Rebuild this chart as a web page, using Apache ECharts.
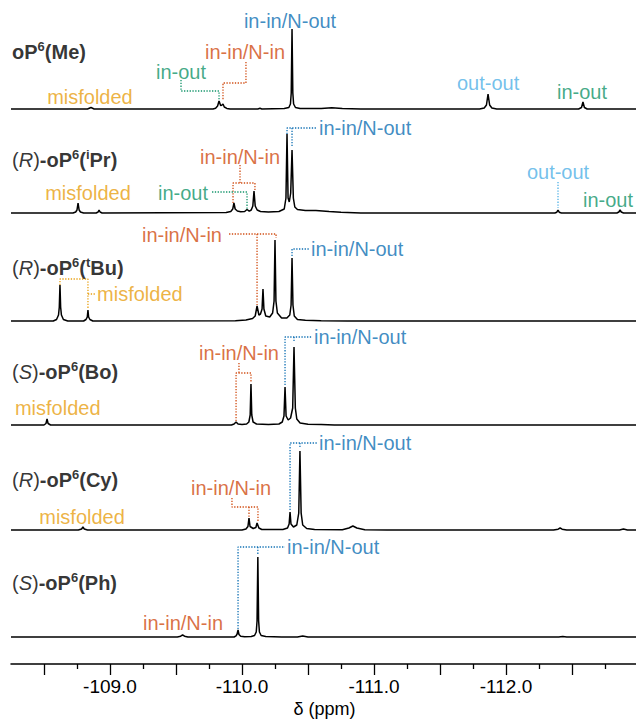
<!DOCTYPE html>
<html>
<head>
<meta charset="utf-8">
<script src="https://cdn.jsdelivr.net/npm/echarts@6/dist/echarts.min.js"></script>
<style>
  html, body { margin: 0; padding: 0; background: #fff; }
  #chart { width: 636px; height: 719px; }
</style>
</head>
<body>
<div id="chart"></div>
<script>
// 19F NMR spectra, [ppm, intensity]
const specMe = [
  [-108.25, 0],
  [-108.83, 0], [-108.856, 1.5], [-108.88, 0],
  [-109.78, 0], [-109.80, 0.8], [-109.815, 3], [-109.826, 8], [-109.838, 3.5], [-109.846, 3.8], [-109.856, 5], [-109.866, 2], [-109.885, 0.6], [-109.91, 0],
  [-110.12, 0], [-110.136, 0.7], [-110.15, 0],
  [-110.32, 0.4], [-110.355, 1.5], [-110.367, 5], [-110.373, 16], [-110.379, 80], [-110.385, 16], [-110.391, 5], [-110.405, 1.5], [-110.44, 0.5],
  [-110.60, 0.5], [-110.68, 1.2], [-110.76, 0.4], [-110.9, 0],
  [-111.80, 0], [-111.835, 1], [-111.852, 4], [-111.864, 15], [-111.876, 4], [-111.893, 1], [-111.93, 0],
  [-112.55, 0], [-112.572, 1.5], [-112.583, 7], [-112.594, 1.5], [-112.615, 0],
  [-113.0, 0]
];
const specIPr = [
  [-108.25, 0],
  [-108.72, 0], [-108.74, 1], [-108.75, 3], [-108.758, 10], [-108.766, 3], [-108.776, 1], [-108.80, 0],
  [-108.895, 0], [-108.91, 1], [-108.917, 3], [-108.925, 1], [-108.94, 0],
  [-109.88, 0.5], [-109.915, 1.5], [-109.93, 4], [-109.939, 10], [-109.948, 4], [-109.965, 2], [-109.99, 1.2],
  [-110.02, 1.5], [-110.038, 3.5], [-110.055, 1.8], [-110.07, 3], [-110.082, 7], [-110.091, 22], [-110.10, 7], [-110.115, 3], [-110.14, 1.5],
  [-110.20, 1], [-110.28, 1.5], [-110.32, 4], [-110.333, 15], [-110.341, 79], [-110.349, 15], [-110.358, 11], [-110.369, 20], [-110.379, 63], [-110.389, 15], [-110.40, 6], [-110.42, 3.5],
  [-110.48, 2.5], [-110.56, 2.5], [-110.66, 1.5], [-110.75, 0.8], [-110.9, 0],
  [-112.37, 0], [-112.385, 0.8], [-112.394, 3], [-112.403, 0.8], [-112.42, 0],
  [-112.84, 0], [-112.855, 1], [-112.864, 3], [-112.873, 1], [-112.89, 0],
  [-113.0, 0]
];
const specTBu = [
  [-108.25, 0],
  [-108.57, 0], [-108.595, 1.5], [-108.61, 6], [-108.616, 14], [-108.621, 36], [-108.626, 14], [-108.632, 6], [-108.647, 1.5], [-108.68, 0],
  [-108.80, 0], [-108.818, 1.5], [-108.828, 4], [-108.833, 11], [-108.838, 4], [-108.848, 1.5], [-108.87, 0],
  [-109.95, 0.3], [-110.03, 1], [-110.08, 2.5], [-110.10, 5], [-110.114, 15], [-110.128, 6], [-110.14, 7], [-110.152, 12], [-110.159, 32], [-110.166, 12], [-110.18, 5],
  [-110.21, 4], [-110.232, 8], [-110.243, 20], [-110.25, 81], [-110.257, 20], [-110.268, 8], [-110.30, 3],
  [-110.34, 3], [-110.362, 6], [-110.372, 16], [-110.379, 63], [-110.386, 16], [-110.396, 5], [-110.42, 1.5], [-110.48, 0.7], [-110.6, 0.3], [-110.8, 0],
  [-113.0, 0]
];
const specBo = [
  [-108.25, 0],
  [-108.50, 0], [-108.515, 1.5], [-108.523, 6], [-108.531, 1.5], [-108.55, 0],
  [-109.92, 0], [-109.94, 1], [-109.955, 3], [-109.97, 1], [-110.0, 0.5],
  [-110.035, 1], [-110.052, 3], [-110.062, 10], [-110.068, 41], [-110.074, 10], [-110.084, 3], [-110.11, 1], [-110.2, 0.5],
  [-110.28, 1], [-110.305, 3], [-110.318, 9], [-110.326, 38], [-110.334, 9], [-110.35, 5], [-110.368, 7], [-110.384, 17], [-110.394, 78], [-110.404, 17], [-110.415, 6], [-110.44, 2],
  [-110.5, 0.7], [-110.6, 0.5], [-110.7, 0],
  [-113.0, 0]
];
const specCy = [
  [-108.25, 0],
  [-108.76, 0], [-108.785, 1], [-108.795, 3], [-108.805, 1], [-108.83, 0],
  [-110.0, 0], [-110.03, 1], [-110.045, 3.5], [-110.053, 12], [-110.061, 3.5], [-110.085, 1.5], [-110.105, 2.5], [-110.114, 7], [-110.128, 2], [-110.15, 0.5],
  [-110.31, 0.5], [-110.345, 2], [-110.357, 6], [-110.364, 18], [-110.371, 6], [-110.39, 3], [-110.415, 5], [-110.43, 17], [-110.439, 79], [-110.448, 17], [-110.46, 5], [-110.49, 1.5], [-110.55, 0.5],
  [-110.76, 0.3], [-110.81, 2], [-110.84, 4], [-110.87, 2], [-110.93, 0.3], [-111.1, 0],
  [-112.36, 0], [-112.395, 0.8], [-112.41, 2], [-112.425, 0.8], [-112.46, 0],
  [-112.86, 0], [-112.89, 1], [-112.92, 0],
  [-113.0, 0]
];
const specPh = [
  [-108.25, 0],
  [-109.51, 0], [-109.535, 0.8], [-109.55, 2], [-109.565, 0.8], [-109.59, 0],
  [-109.94, 0], [-109.955, 1.2], [-109.963, 3], [-109.97, 7], [-109.977, 2.5], [-109.99, 0.8], [-110.02, 0.3],
  [-110.07, 0.5], [-110.095, 1.5], [-110.108, 5], [-110.114, 16], [-110.12, 80], [-110.126, 16], [-110.132, 5], [-110.145, 1.5], [-110.18, 0.4], [-110.3, 0],
  [-110.42, 0], [-110.46, 1], [-110.50, 0],
  [-112.40, 0], [-112.43, 0.6], [-112.46, 0],
  [-113.0, 0]
];

const spectra = [specMe, specIPr, specTBu, specBo, specCy, specPh];
const compounds = [
  '{b|oP}{sup|6}{b|(Me)}',
  '{n|(}{it|R}{n|)}{b|-oP}{sup|6}{b|(}{sup|i}{b|Pr)}',
  '{n|(}{it|R}{n|)}{b|-oP}{sup|6}{b|(}{sup|t}{b|Bu)}',
  '{n|(}{it|S}{n|)}{b|-oP}{sup|6}{b|(Bo)}',
  '{n|(}{it|R}{n|)}{b|-oP}{sup|6}{b|(Cy)}',
  '{n|(}{it|S}{n|)}{b|-oP}{sup|6}{b|(Ph)}'
];
const majorTicks = [-112.5, -112.0, -111.5, -111.0, -110.5, -110.0, -109.5, -109.0, -108.5];
const minorTicks = [-112.75, -112.25, -111.75, -111.25, -110.75, -110.25, -109.75, -109.25, -108.75];
const tickLabels = [-112.0, -111.0, -110.0, -109.0];

// layout: vertical stacking offset of each trace, and where compound names sit
const rowOffset = [555, 451, 343, 239, 134, 27];
const nameY = [612, 504, 396, 292, 184, 81];

const colors = {
    nout: '#0e6fb3',
    nin: '#d04c12',
    inout: '#12946a',
    outout: '#4fb0e6',
    mis: '#e8a012'
};

// [text, ppm, height, colour, align]
const annotations = [
    ['in-in/N-out', -110.364, 643, 'nout', 'center'],
    ['in-in/N-in', -110.023, 612, 'nin', 'center'],
    ['in-out', -109.538, 592, 'inout', 'center'],
    ['misfolded', -108.848, 567, 'mis', 'center'],
    ['out-out', -111.864, 581, 'outout', 'center'],
    ['in-out', -112.576, 572, 'inout', 'center'],
    ['in-in/N-out', -110.583, 536, 'nout', 'left'],
    ['in-in/N-in', -109.985, 507, 'nin', 'center'],
    ['in-out', -109.553, 471, 'inout', 'center'],
    ['misfolded', -108.833, 471, 'mis', 'center'],
    ['out-out', -112.394, 492, 'outout', 'center'],
    ['in-out', -112.583, 464, 'inout', 'left'],
    ['misfolded', -108.902, 370, 'mis', 'left'],
    ['in-in/N-in', -109.242, 429, 'nin', 'left'],
    ['in-in/N-out', -110.523, 415, 'nout', 'left'],
    ['misfolded', -108.280, 256, 'mis', 'left'],
    ['in-in/N-in', -109.977, 311, 'nin', 'center'],
    ['in-in/N-out', -110.545, 327, 'nout', 'left'],
    ['misfolded', -108.788, 147, 'mis', 'center'],
    ['in-in/N-in', -109.917, 176, 'nin', 'center'],
    ['in-in/N-out', -110.583, 221, 'nout', 'left'],
    ['in-in/N-in', -109.553, 41, 'nin', 'center'],
    ['in-in/N-out', -110.341, 117, 'nout', 'left']
];

// dotted leader lines from labels to peaks
const leaders = [
    ['nin', [[-110.030, 602], [-110.030, 581], [-109.856, 581], [-109.856, 564]]],
    ['inout', [[-109.538, 584], [-109.538, 573], [-109.826, 573], [-109.826, 564]]],
    ['nout', [[-110.341, 530], [-110.341, 536], [-110.568, 536]]],
    ['nout', [[-110.379, 536], [-110.379, 517]]],
    ['nin', [[-109.985, 499], [-109.985, 481]]],
    ['nin', [[-109.932, 461], [-109.932, 481], [-110.098, 481], [-110.098, 474]]],
    ['inout', [[-109.773, 472], [-110.038, 472], [-110.038, 455]]],
    ['outout', [[-112.394, 482], [-112.394, 456]]],
    ['mis', [[-108.621, 379], [-108.621, 385], [-108.833, 385], [-108.833, 356]]],
    ['mis', [[-108.833, 370], [-108.886, 370]]],
    ['nin', [[-109.902, 430], [-110.258, 430], [-110.258, 426]]],
    ['nin', [[-110.114, 430], [-110.114, 359]]],
    ['nout', [[-110.379, 408], [-110.379, 415], [-110.508, 415]]],
    ['nin', [[-109.977, 301], [-109.977, 291]]],
    ['nin', [[-109.955, 243], [-109.955, 291], [-110.068, 291], [-110.068, 282]]],
    ['nout', [[-110.326, 279], [-110.326, 327], [-110.530, 327]]],
    ['nout', [[-110.394, 327], [-110.394, 322]]],
    ['nin', [[-109.924, 166], [-109.924, 157], [-110.121, 157], [-110.121, 142]]],
    ['nin', [[-110.053, 157], [-110.053, 147]]],
    ['nout', [[-110.364, 154], [-110.364, 221], [-110.568, 221]]],
    ['nout', [[-110.439, 221], [-110.439, 217]]],
    ['nout', [[-109.970, 35], [-109.970, 117], [-110.326, 117]]],
    ['nout', [[-110.120, 117], [-110.120, 110]]]
];

const FONT = "'Liberation Sans', Arial, Helvetica, sans-serif";

const chart = echarts.init(document.getElementById('chart'), null, { renderer: 'svg' });

const series = [];
spectra.forEach((spec, i) => {
    series.push({
        type: 'line',
        data: spec.map(([p, v]) => [p, v + rowOffset[i]]),
        showSymbol: false,
        symbol: 'none',
        clip: false,
        lineStyle: { color: '#000', width: 1.5 },
        silent: true
    });
});
leaders.forEach(([c, pts]) => {
    series.push({
        type: 'line',
        data: pts,
        showSymbol: false,
        symbol: 'none',
        clip: false,
        lineStyle: { color: colors[c], width: 1.3, type: [1.3, 1.5] },
        silent: true
    });
});
series.push({
    type: 'scatter',
    symbolSize: 0,
    silent: true,
    data: annotations.map(([t, p, v, c, a]) => ({
        value: [p, v],
        label: {
            show: true,
            position: 'inside',
            formatter: t,
            color: colors[c],
            align: a,
            verticalAlign: 'middle',
            fontSize: 20,
            fontFamily: FONT
        }
    }))
});
series.push({
    type: 'scatter',
    symbolSize: 0,
    silent: true,
    data: compounds.map((s, i) => ({
        value: [-108.258, nameY[i]],
        label: {
            show: true,
            position: 'inside',
            formatter: s,
            align: 'left',
            verticalAlign: 'middle',
            rich: {
                n: { fontSize: 20, fontFamily: FONT, color: '#000', lineHeight: 24 },
                it: { fontSize: 20, fontFamily: FONT, fontStyle: 'italic', color: '#000', lineHeight: 24 },
                b: { fontSize: 20, fontFamily: FONT, fontWeight: 'bold', color: '#000', lineHeight: 24 },
                sup: { fontSize: 13, fontFamily: FONT, fontWeight: 'bold', color: '#000', verticalAlign: 'top', lineHeight: 14 }
            }
        }
    }))
});

chart.setOption({
    animation: false,
    grid: { left: 11, width: 627, top: 0, height: 664, containLabel: false, outerBoundsMode: 'none' },
    xAxis: [
        {
            type: 'value',
            inverse: true,
            min: -113.0,
            max: -108.25,
            name: 'δ (ppm)',
            nameLocation: 'middle',
            nameGap: 35,
            nameMoveOverlap: false,
            nameTextStyle: { fontSize: 18, fontFamily: FONT, color: '#000', verticalAlign: 'top', lineHeight: 20 },
            axisLine: { show: true, lineStyle: { color: '#000', width: 1.5 } },
            axisTick: { show: true, length: 11, customValues: majorTicks, lineStyle: { color: '#000', width: 1.3 } },
            axisLabel: {
                show: true,
                customValues: tickLabels,
                margin: 13,
                fontSize: 19,
                fontFamily: FONT,
                color: '#000',
                formatter: (v) => v.toFixed(1)
            },
            splitLine: { show: false }
        },
        {
            type: 'value',
            inverse: true,
            min: -113.0,
            max: -108.25,
            position: 'bottom',
            axisLine: { show: false },
            axisTick: { show: true, length: 5, customValues: minorTicks, lineStyle: { color: '#000', width: 1.3 } },
            axisLabel: { show: false },
            splitLine: { show: false }
        }
    ],
    yAxis: { type: 'value', min: 0, max: 664, show: false },
    series
});
</script>
</body>
</html>
